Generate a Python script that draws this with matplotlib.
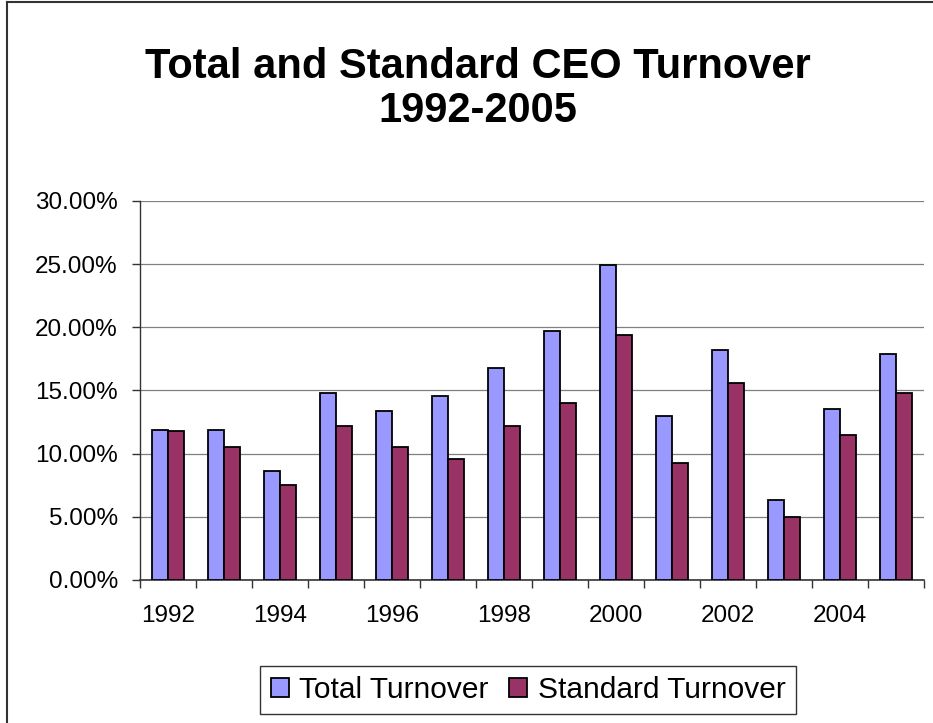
import matplotlib
matplotlib.use("Agg")
import matplotlib.pyplot as plt
import numpy as np
from matplotlib.ticker import PercentFormatter, MultipleLocator
from matplotlib.lines import Line2D

plt.rcParams['font.family'] = ['Liberation Sans', 'DejaVu Sans']

years = [1992, 1993, 1994, 1995, 1996, 1997, 1998, 1999, 2000, 2001, 2002, 2003, 2004, 2005]
total_turnover = [0.119, 0.119, 0.086, 0.148, 0.134, 0.146, 0.168, 0.197, 0.249, 0.130, 0.182, 0.063, 0.135, 0.179]
standard_turnover = [0.118, 0.105, 0.075, 0.122, 0.105, 0.096, 0.122, 0.140, 0.194, 0.093, 0.156, 0.050, 0.115, 0.148]
year_labels = [str(y) if y % 2 == 0 else '' for y in years]

W, H = 933, 723
fig = plt.figure(figsize=(W / 100, H / 100), dpi=100)
fig.patch.set_facecolor('white')

# plot area in pixels: x 140-924, y 201-580
ax = fig.add_axes([140 / W, 1 - 580 / H, 784 / W, 379 / H])

x = np.arange(len(years))
w = 0.286
ax.bar(x - w / 2, total_turnover, w, color='#9999FF', edgecolor='black', linewidth=1.3,
       label='Total Turnover', zorder=3)
ax.bar(x + w / 2, standard_turnover, w, color='#993366', edgecolor='black', linewidth=1.3,
       label='Standard Turnover', zorder=3)

ax.set_xlim(-0.5, len(years) - 0.5)
ax.set_ylim(0, 0.30)
ax.yaxis.set_major_locator(MultipleLocator(0.05))
ax.yaxis.set_major_formatter(PercentFormatter(1.0, decimals=2))
ax.yaxis.grid(True, color='#808080', linewidth=0.9, zorder=0)

ax.set_xticks(x)
ax.set_xticklabels(year_labels)
ax.set_xticks(np.arange(-0.5, len(years)), minor=True)
ax.tick_params(axis='x', which='major', length=0, pad=18, labelsize=17.5)
ax.tick_params(axis='x', which='minor', length=6, width=1, color='#333333', direction='out')
ax.tick_params(axis='y', length=6, width=1, color='#333333', pad=10, labelsize=17.5)

for s in ['top', 'right']:
    ax.spines[s].set_visible(False)
ax.spines['left'].set_color('#333333')
ax.spines['bottom'].set_color('#333333')
ax.spines['left'].set_linewidth(1)
ax.spines['bottom'].set_linewidth(1.2)

fig.text(478 / W, 1 - 122 / H, 'Total and Standard CEO Turnover\n1992-2005',
         ha='center', va='baseline', fontsize=30, fontweight='bold', linespacing=1.12)

leg = fig.legend(loc='center', bbox_to_anchor=(528 / W, 1 - 690 / H), ncol=2,
                 fontsize=21.5, frameon=True, fancybox=False, shadow=False,
                 handlelength=0.6, handleheight=0.6, handletextpad=0.35,
                 columnspacing=0.7, borderpad=0.35)
leg.get_frame().set_edgecolor('black')
leg.get_frame().set_linewidth(1)

# chart border (left and top visible)
fig.add_artist(Line2D([7 / W, 7 / W], [0, 1 - 2 / H], transform=fig.transFigure,
                      color='#333333', linewidth=1.5))
fig.add_artist(Line2D([7 / W, 1], [1 - 2 / H, 1 - 2 / H], transform=fig.transFigure,
                      color='#333333', linewidth=1.5))

fig.savefig('out.png', dpi=100)
